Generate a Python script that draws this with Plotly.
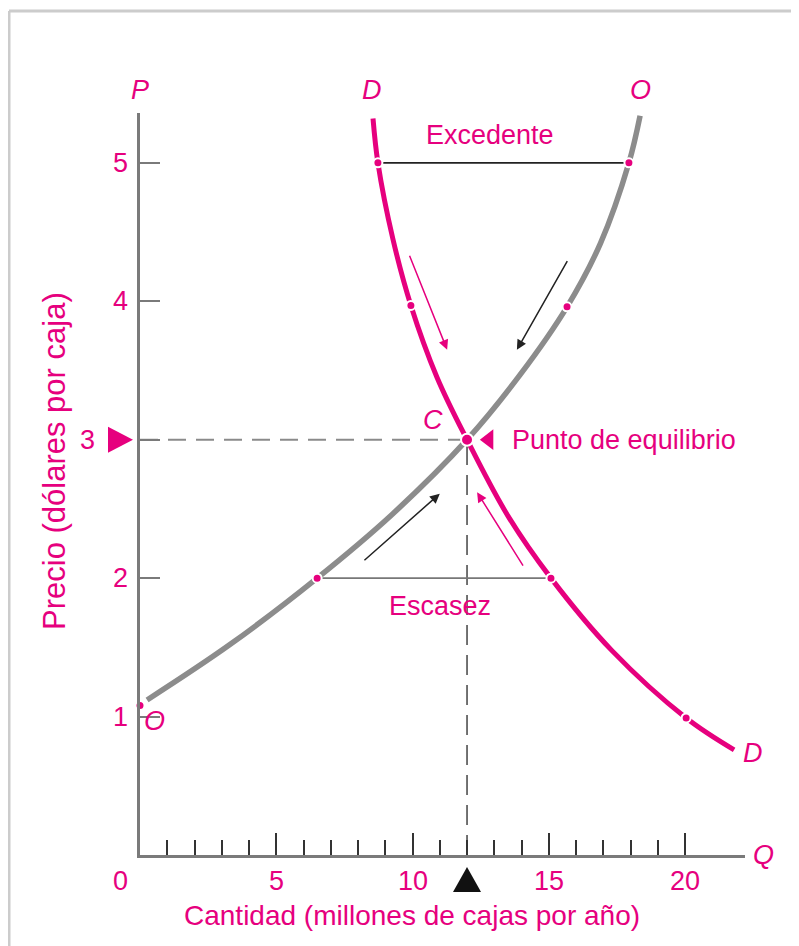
import plotly.graph_objects as go

# ---------------- data ----------------
demand_q = [8.55, 8.73, 9.28, 9.94, 10.9, 12.0, 13.5, 15.08, 17.3, 20.04, 21.8]
demand_p = [5.32, 5.00, 4.45, 3.97, 3.45, 3.00, 2.45, 2.00, 1.48, 0.99, 0.76]

supply_q = [0.26, 3.3, 6.5, 9.25, 12.0, 13.95, 15.67, 16.9, 17.94, 18.35]
supply_p = [1.12, 1.52, 2.0, 2.46, 3.0, 3.47, 3.96, 4.42, 5.00, 5.34]

demand_dot_q = [8.73, 9.94, 15.08, 20.04]
demand_dot_p = [5.00, 3.97, 2.00, 0.99]
supply_dot_q = [0.0, 6.5, 15.67, 17.94]
supply_dot_p = [1.08, 2.0, 3.96, 5.00]

eq_q, eq_p = 12.0, 3.0

surplus_q = [8.73, 17.94]   # Excedente at P = 5
surplus_p = [5.0, 5.0]
shortage_q = [6.5, 15.08]   # Escasez at P = 2
shortage_p = [2.0, 2.0]

y_ticks = [1, 2, 3, 4, 5]
x_major = [5, 10, 15, 20]
x_minor = [1, 2, 3, 4, 6, 7, 8, 9, 11, 12, 13, 14, 16, 17, 18, 19]
x_labels = ["5", "10", "15", "20"]

# arrows: (tail_q, tail_p, head_q, head_p, colour)
arrows = [
    (9.87, 4.34, 11.27, 3.65, "pink"),
    (15.71, 4.30, 13.83, 3.65, "black"),
    (8.18, 2.12, 11.0, 2.61, "black"),
    (14.09, 2.08, 12.37, 2.62, "pink"),
]

PINK = "#e6007e"
GRAY = "#8c8c8c"
AXIS = "#7a7a7a"
FONT = "Liberation Sans, Arial, sans-serif"
FS = 27

fig = go.Figure()

# dashed guide lines
fig.add_trace(go.Scatter(x=[0, eq_q], y=[eq_p, eq_p], mode="lines",
                         line=dict(color="#8a8a8a", width=2, dash="18px,10px"),
                         hoverinfo="skip"))
fig.add_trace(go.Scatter(x=[eq_q, eq_q], y=[0, eq_p], mode="lines",
                         line=dict(color="#444444", width=1.5, dash="20px,10px"),
                         hoverinfo="skip"))

# surplus / shortage lines
fig.add_trace(go.Scatter(x=surplus_q, y=surplus_p, mode="lines",
                         line=dict(color="#222222", width=1.8), hoverinfo="skip"))
fig.add_trace(go.Scatter(x=shortage_q, y=shortage_p, mode="lines",
                         line=dict(color="#777777", width=1.8), hoverinfo="skip"))

# curves
fig.add_trace(go.Scatter(x=supply_q, y=supply_p, mode="lines",
                         line=dict(color=GRAY, width=5.5, shape="spline", smoothing=1.0),
                         cliponaxis=False, hoverinfo="skip"))
fig.add_trace(go.Scatter(x=demand_q, y=demand_p, mode="lines",
                         line=dict(color=PINK, width=5, shape="spline", smoothing=1.0),
                         cliponaxis=False, hoverinfo="skip"))

# dots
fig.add_trace(go.Scatter(x=demand_dot_q + supply_dot_q, y=demand_dot_p + supply_dot_p,
                         mode="markers", cliponaxis=False,
                         marker=dict(color=PINK, size=9, line=dict(color="white", width=2)),
                         hoverinfo="skip"))
fig.add_trace(go.Scatter(x=[eq_q], y=[eq_p], mode="markers", cliponaxis=False,
                         marker=dict(color=PINK, size=12, line=dict(color="white", width=2)),
                         hoverinfo="skip"))

# triangle next to "Punto de equilibrio"
fig.add_trace(go.Scatter(x=[12.8], y=[eq_p], mode="markers", cliponaxis=False,
                         marker=dict(symbol="triangle-left", color=PINK, size=18),
                         hoverinfo="skip"))

ann = []
for tq, tp, hq, hp, c in arrows:
    col = PINK if c == "pink" else "#222222"
    ann.append(dict(x=hq, y=hp, ax=tq, ay=tp, xref="x", yref="y", axref="x", ayref="y",
                    showarrow=True, arrowhead=2, arrowsize=1.3, arrowwidth=1.5,
                    arrowcolor=col, text=""))

def txt(text, size=FS, **kw):
    d = dict(text=text, showarrow=False, font=dict(family=FONT, size=size, color=PINK))
    d.update(kw)
    ann.append(d)

# y tick labels
for v in y_ticks:
    txt(str(v), x=0, y=v, xref="x", yref="y", xanchor="right", yanchor="middle",
        xshift=(-43 if v == 3 else -10))
# x tick labels
for v, lab in zip(x_major, x_labels):
    txt(lab, x=v, y=0, xref="x", yref="y", xanchor="center", yanchor="middle", yshift=-26)
txt("0", x=0, y=0, xref="x", yref="y", xanchor="center", yanchor="middle", yshift=-26, xshift=-20)

# axis letters
txt("<i>P</i>", x=0, y=1, xref="x", yref="paper", yanchor="bottom", yshift=6)
txt("<i>D</i>", x=8.51, y=1, xref="x", yref="paper", yanchor="bottom", yshift=6)
txt("<i>O</i>", x=18.35, y=1, xref="x", yref="paper", yanchor="bottom", yshift=6)
txt("<i>Q</i>", x=1, y=0, xref="paper", yref="y", xanchor="left", yanchor="middle", xshift=6)
txt("<i>D</i>", x=1, y=0.74, xref="paper", yref="y", xanchor="center", yanchor="middle", xshift=8)
txt("<i>O</i>", x=0.55, y=0.97, xref="x", yref="y", xanchor="center", yanchor="middle")
txt("<i>C</i>", x=10.75, y=3.14, xref="x", yref="y", xanchor="center", yanchor="middle")

txt("Excedente", x=12.85, y=5.2, xref="x", yref="y", xanchor="center", yanchor="middle")
txt("Escasez", x=11.0, y=1.80, xref="x", yref="y", xanchor="center", yanchor="middle")
txt("Punto de equilibrio", x=13.58, y=eq_p, xref="x", yref="y", xanchor="left", yanchor="middle")

# axis titles
txt("Cantidad (millones de cajas por año)", size=28, x=0.45, y=0, xref="paper", yref="paper",
    xanchor="center", yanchor="middle", yshift=-60)
txt("Precio (dólares por caja)", size=31, x=0, y=0.531, xref="paper", yref="paper",
    xanchor="center", yanchor="middle", xshift=-85, textangle=-90)

fig.update_layout(
    width=799, height=946,
    margin=dict(l=132, r=62, t=105, b=99),
    paper_bgcolor="white", plot_bgcolor="white",
    showlegend=False,
    annotations=ann,
    xaxis=dict(range=[0, 22.2], showgrid=False, zeroline=False, showline=True,
               linecolor=AXIS, linewidth=2.5,
               tickmode="array", tickvals=x_major, ticks="inside", ticklen=22,
               tickwidth=2, tickcolor="#333333", showticklabels=False,
               minor=dict(tickmode="array", tickvals=x_minor, ticks="inside",
                          ticklen=15, tickwidth=2, tickcolor="#333333")),
    yaxis=dict(range=[0, 5.36], showgrid=False, zeroline=False, showline=True,
               linecolor=AXIS, linewidth=2.5,
               tickmode="array", tickvals=y_ticks, ticks="inside", ticklen=20,
               tickwidth=2, tickcolor=AXIS, showticklabels=False),
    shapes=[
        dict(type="line", xref="paper", yref="paper", x0=-0.2165, x1=-0.2165,
             y0=1.1375, y1=-0.2, line=dict(color="#cccccc", width=3)),
        dict(type="line", xref="paper", yref="paper", x0=-0.2165, x1=1.1,
             y0=1.1375, y1=1.1375, line=dict(color="#cccccc", width=3)),
        # pink marker triangle at P = 3 on the price axis
        dict(type="path", xref="paper", yref="y", xsizemode="pixel", ysizemode="pixel",
             xanchor=0, yanchor=eq_p, path="M -32 13 L -7 0 L -32 -13 Z",
             fillcolor=PINK, line=dict(width=0), layer="above"),
        # black marker triangle at Q = 12 below the quantity axis
        dict(type="path", xref="x", yref="paper", xsizemode="pixel", ysizemode="pixel",
             xanchor=eq_q, yanchor=0, path="M -14 -37 L 0 -12 L 14 -37 Z",
             fillcolor="#111111", line=dict(width=0), layer="above"),
    ],
)

fig.write_html("out.html")
